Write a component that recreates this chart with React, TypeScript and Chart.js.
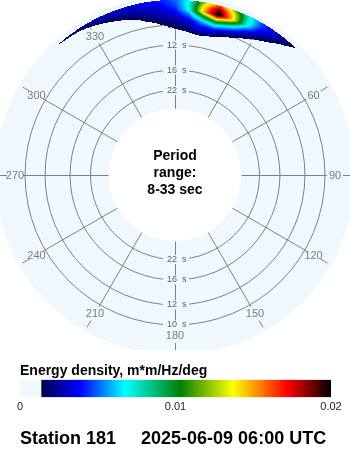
import React, { useEffect, useRef } from 'react';
import { Chart, registerables } from 'chart.js';

Chart.register(...registerables);

// ---------------- data ----------------
// direction nodes (degrees, compass, clockwise from north)
const DIRECTIONS_DEG = [315, 320, 325, 330, 335, 340, 345, 350, 355, 0, 5, 10, 15, 20, 25, 30, 35, 40, 45, 50];
// frequency nodes (Hz)
const FREQUENCIES_HZ = [0.093, 0.097, 0.101, 0.105, 0.109, 0.113, 0.117, 0.121];
// energy density m*m/Hz/deg, one row per direction, values at FREQUENCIES_HZ
const ENERGY = [
  [0, 0, 0, 0, 0, 0, 0, 0.0008],
  [0, 0, 0, 0, 0, 0, 0, 0.0017],
  [0, 0, 0, 0, 0, 0, 0.0002, 0.0024],
  [0, 0, 0, 0, 0, 0, 0.0013, 0.0028],
  [0, 0, 0, 0, 0, 0.0009, 0.0021, 0.003],
  [0, 0, 0, 0, 0.0006, 0.0017, 0.0025, 0.0032],
  [0, 0, 0, 0.0004, 0.0015, 0.0022, 0.0029, 0.0034],
  [0, 0, 0.0005, 0.0015, 0.0021, 0.0027, 0.0033, 0.0038],
  [0, 0.0006, 0.0015, 0.0021, 0.0026, 0.0032, 0.0038, 0.0042],
  [0.0003, 0.0014, 0.002, 0.0026, 0.0033, 0.0041, 0.0047, 0.005],
  [0.0008, 0.002, 0.0027, 0.0036, 0.0052, 0.007, 0.0073, 0.007],
  [0.0015, 0.0032, 0.0041, 0.0061, 0.0099, 0.0148, 0.0141, 0.0124],
  [0.0008, 0.0025, 0.0045, 0.008, 0.0135, 0.0205, 0.019, 0.016],
  [0.0003, 0.0012, 0.0028, 0.0055, 0.0095, 0.0146, 0.0139, 0.0121],
  [0, 0.0003, 0.0013, 0.0028, 0.0048, 0.0075, 0.0078, 0.0072],
  [0, 0, 0.0003, 0.0012, 0.0024, 0.0036, 0.0046, 0.0046],
  [0, 0, 0, 0, 0.0011, 0.0021, 0.003, 0.0034],
  [0, 0, 0, 0, 0, 0.0005, 0.0016, 0.0022],
  [0, 0, 0, 0, 0, 0, 0.0002, 0.0011],
  [0, 0, 0, 0, 0, 0, 0, 0],
];

const RING_PERIODS = [10, 12, 16, 22];
const DIRECTION_TICKS = [0, 30, 60, 90, 120, 150, 180, 210, 240, 270, 300, 330];
const PERIOD_MIN = 8;
const PERIOD_MAX = 33;

const CB_MIN = 0;
const CB_MAX = 0.02;
const CB_TICKS = [0, 0.01, 0.02];
const CB_THRESHOLD = 0.00135;
const CMAP_VALUES = [0.00135, 0.00386, 0.00675, 0.0103, 0.0137, 0.01717, 0.02];
const CMAP_COLORS = ['#000050', '#0000ff', '#00ffff', '#008000', '#ffff00', '#ff0000', '#000000'];

const CENTER_LINES = ['Period', 'range:', `${PERIOD_MIN}-${PERIOD_MAX} sec`];
const CB_TITLE = 'Energy density, m*m/Hz/deg';
const STATION = 'Station 181';
const TIMESTAMP = '2025-06-09 06:00 UTC';

// ---------------- style / geometry ----------------
const FONT = "'Liberation Sans', Arial, Helvetica, sans-serif";
const DISC_COLOR = '#f0f8ff';
const GRID_COLOR = '#808080';
const HALF_SPAN = 175; // radial units shown on each side of centre
const RAD0 = 29.9; // radius units at f = 0
const RADK = 1200.7; // radius units per Hz
const SPOKE_OUTER = 152;
const TICK_IN = 168;
const TICK_OUT = 176;
const LABEL_R = 160;

const radOfFreq = (f: number) => RAD0 + RADK * f;
const freqOfRad = (r: number) => (r - RAD0) / RADK;
const radOfPeriod = (p: number) => radOfFreq(1 / p);

function hexToRgb(h: string): number[] {
  const n = parseInt(h.slice(1), 16);
  return [(n >> 16) & 255, (n >> 8) & 255, n & 255];
}
const CMAP_RGB = CMAP_COLORS.map(hexToRgb);

function colorFor(v: number): number[] {
  const last = CMAP_VALUES.length - 1;
  if (v <= CMAP_VALUES[0]) return CMAP_RGB[0];
  if (v >= CMAP_VALUES[last]) return CMAP_RGB[last];
  for (let i = 0; i < last; i++) {
    if (v <= CMAP_VALUES[i + 1]) {
      const t = (v - CMAP_VALUES[i]) / (CMAP_VALUES[i + 1] - CMAP_VALUES[i]);
      const a = CMAP_RGB[i];
      const b = CMAP_RGB[i + 1];
      return [a[0] + (b[0] - a[0]) * t, a[1] + (b[1] - a[1]) * t, a[2] + (b[2] - a[2]) * t];
    }
  }
  return CMAP_RGB[last];
}

const REL_DIRS = DIRECTIONS_DEG.map((d) => (d > 180 ? d - 360 : d));

function energyAt(dirDeg: number, f: number): number {
  let rel = ((dirDeg % 360) + 360) % 360;
  if (rel > 180) rel -= 360;
  const nd = REL_DIRS.length;
  const nf = FREQUENCIES_HZ.length;
  if (rel < REL_DIRS[0] || rel > REL_DIRS[nd - 1]) return 0;
  if (f < FREQUENCIES_HZ[0] || f > FREQUENCIES_HZ[nf - 1]) return 0;
  let i = 0;
  while (i < nd - 2 && rel > REL_DIRS[i + 1]) i++;
  let j = 0;
  while (j < nf - 2 && f > FREQUENCIES_HZ[j + 1]) j++;
  const ti = (rel - REL_DIRS[i]) / (REL_DIRS[i + 1] - REL_DIRS[i]);
  const tj = (f - FREQUENCIES_HZ[j]) / (FREQUENCIES_HZ[j + 1] - FREQUENCIES_HZ[j]);
  const v00 = ENERGY[i][j];
  const v01 = ENERGY[i][j + 1];
  const v10 = ENERGY[i + 1][j];
  const v11 = ENERGY[i + 1][j + 1];
  return (v00 * (1 - tj) + v01 * tj) * (1 - ti) + (v10 * (1 - tj) + v11 * tj) * ti;
}

const polarPlugin = {
  id: 'polarSpectrum',
  afterDraw(chart: any) {
    const { ctx } = chart;
    const xs = chart.scales.x;
    const ys = chart.scales.y;
    const cx = xs.getPixelForValue(0);
    const cy = ys.getPixelForValue(0);
    const rpx = (r: number) => Math.abs(xs.getPixelForValue(r) - cx);
    const pt = (deg: number, r: number) => {
      const a = (deg * Math.PI) / 180;
      return [xs.getPixelForValue(r * Math.sin(a)), ys.getPixelForValue(r * Math.cos(a))];
    };

    ctx.save();
    // disc
    ctx.fillStyle = DISC_COLOR;
    ctx.beginPath();
    ctx.arc(cx, cy, rpx(radOfPeriod(PERIOD_MIN)), 0, Math.PI * 2);
    ctx.fill();

    // rings
    ctx.strokeStyle = GRID_COLOR;
    ctx.lineWidth = 1;
    RING_PERIODS.forEach((p) => {
      ctx.beginPath();
      ctx.arc(cx, cy, rpx(radOfPeriod(p)), 0, Math.PI * 2);
      ctx.stroke();
    });

    // spokes and outer ticks
    DIRECTION_TICKS.forEach((d) => {
      const [x0, y0] = pt(d, radOfPeriod(PERIOD_MAX));
      const [x1, y1] = pt(d, SPOKE_OUTER);
      const [x2, y2] = pt(d, TICK_IN);
      const [x3, y3] = pt(d, TICK_OUT);
      const snap = (v: number, vert: boolean) => (vert ? Math.round(v) + 0.5 : v);
      const vertical = d % 180 === 0;
      const horizontal = d % 180 === 90;
      ctx.beginPath();
      ctx.moveTo(vertical ? snap(x0, true) : x0, horizontal ? snap(y0, true) : y0);
      ctx.lineTo(vertical ? snap(x1, true) : x1, horizontal ? snap(y1, true) : y1);
      ctx.moveTo(vertical ? snap(x2, true) : x2, horizontal ? snap(y2, true) : y2);
      ctx.lineTo(vertical ? snap(x3, true) : x3, horizontal ? snap(y3, true) : y3);
      ctx.stroke();
    });

    // ring labels along 0 and 180
    ctx.font = `9px ${FONT}`;
    ctx.textBaseline = 'middle';
    [0, 180].forEach((d) => {
      RING_PERIODS.forEach((p) => {
        const [lx, ly] = pt(d, radOfPeriod(p));
        ctx.fillStyle = DISC_COLOR;
        ctx.fillRect(lx - 12, ly - 4.5, 26, 9);
        ctx.fillStyle = '#606060';
        ctx.textAlign = 'right';
        ctx.fillText(String(p), lx + 2, ly);
        ctx.textAlign = 'left';
        ctx.fillText('s', lx + 7, ly);
      });
    });

    // direction labels
    ctx.font = `11px ${FONT}`;
    ctx.fillStyle = '#7a7a7a';
    ctx.textAlign = 'center';
    ctx.textBaseline = 'middle';
    DIRECTION_TICKS.forEach((d) => {
      const [lx, ly] = pt(d, LABEL_R);
      ctx.fillText(String(d), lx, ly + 0.5);
    });

    // energy field
    const W = chart.width;
    const H = chart.height;
    const off = document.createElement('canvas');
    off.width = W;
    off.height = H;
    const octx = off.getContext('2d') as CanvasRenderingContext2D;
    const img = octx.createImageData(W, H);
    const colVals: number[] = [];
    for (let px = 0; px < W; px++) colVals.push(xs.getValueForPixel(px + 0.5));
    for (let py = 0; py < H; py++) {
      const yv = ys.getValueForPixel(py + 0.5);
      for (let px = 0; px < W; px++) {
        const xv = colVals[px];
        const r = Math.sqrt(xv * xv + yv * yv);
        const f = freqOfRad(r);
        if (f < FREQUENCIES_HZ[0] || f > FREQUENCIES_HZ[FREQUENCIES_HZ.length - 1]) continue;
        const dir = (Math.atan2(xv, yv) * 180) / Math.PI;
        const v = energyAt(dir, f);
        if (v < CB_THRESHOLD) continue;
        const c = colorFor(v);
        const k = (py * W + px) * 4;
        img.data[k] = c[0];
        img.data[k + 1] = c[1];
        img.data[k + 2] = c[2];
        img.data[k + 3] = 255;
      }
    }
    octx.putImageData(img, 0, 0);
    ctx.drawImage(off, 0, 0);

    // inner white disc
    ctx.fillStyle = '#ffffff';
    ctx.beginPath();
    ctx.arc(cx, cy, rpx(radOfPeriod(PERIOD_MAX)), 0, Math.PI * 2);
    ctx.fill();

    // centre text
    ctx.fillStyle = '#000000';
    ctx.font = `bold 14px ${FONT}`;
    ctx.textAlign = 'center';
    ctx.textBaseline = 'alphabetic';
    const offsets = [-15, 1.5, 19];
    CENTER_LINES.forEach((t, i) => ctx.fillText(t, cx, cy + offsets[i]));
    ctx.restore();
  },
};

export default function App() {
  const polarRef = useRef<HTMLCanvasElement>(null);
  const barRef = useRef<HTMLCanvasElement>(null);

  useEffect(() => {
    const polar = new Chart(polarRef.current as HTMLCanvasElement, {
      type: 'scatter',
      data: { datasets: [] },
      options: {
        animation: false,
        responsive: false,
        events: [],
        layout: { padding: 0 },
        plugins: { legend: { display: false }, tooltip: { enabled: false } },
        scales: {
          x: { type: 'linear', min: -HALF_SPAN, max: HALF_SPAN, display: false },
          y: { type: 'linear', min: -HALF_SPAN, max: HALF_SPAN, display: false },
        },
      },
      plugins: [polarPlugin],
    } as any);

    const gradientFill = (c: any) => {
      const ch = c.chart;
      const xs = ch.scales && ch.scales.x;
      if (!xs || !ch.chartArea) return CMAP_COLORS[0];
      const last = CMAP_VALUES.length - 1;
      const x0 = xs.getPixelForValue(CMAP_VALUES[0]);
      const x1 = xs.getPixelForValue(CMAP_VALUES[last]);
      const g = ch.ctx.createLinearGradient(x0, 0, x1, 0);
      CMAP_VALUES.forEach((v, i) =>
        g.addColorStop((v - CMAP_VALUES[0]) / (CMAP_VALUES[last] - CMAP_VALUES[0]), CMAP_COLORS[i])
      );
      return g;
    };

    const bar = new Chart(barRef.current as HTMLCanvasElement, {
      type: 'bar',
      data: {
        labels: [''],
        datasets: [
          {
            data: [[CB_MIN, CB_THRESHOLD]],
            backgroundColor: DISC_COLOR,
            grouped: false,
            barPercentage: 1,
            categoryPercentage: 1,
            borderWidth: 0,
          },
          {
            data: [[CB_THRESHOLD, CB_MAX]],
            backgroundColor: gradientFill,
            grouped: false,
            barPercentage: 1,
            categoryPercentage: 1,
            borderWidth: 0,
          },
        ],
      },
      options: {
        indexAxis: 'y',
        animation: false,
        responsive: false,
        events: [],
        layout: { padding: { left: 20, right: 19, top: 13, bottom: 0 } },
        plugins: {
          legend: { display: false },
          tooltip: { enabled: false },
          title: {
            display: true,
            text: CB_TITLE,
            align: 'start',
            color: '#000000',
            font: { family: FONT, size: 14, weight: 'bold' },
            padding: { top: 0, bottom: 0 },
          },
          subtitle: {
            display: true,
            position: 'bottom',
            text: `${STATION}     ${TIMESTAMP}`,
            align: 'start',
            color: '#000000',
            font: { family: FONT, size: 18, weight: 'bold' },
            padding: { top: 12, bottom: 0 },
          },
        },
        scales: {
          x: {
            type: 'linear',
            min: CB_MIN,
            max: CB_MAX,
            afterBuildTicks: (s: any) => {
              s.ticks = CB_TICKS.map((v) => ({ value: v }));
            },
            ticks: {
              callback: (v: any) => String(Number(v)),
              color: '#222222',
              font: { family: FONT, size: 11 },
              padding: 3,
              maxRotation: 0,
              autoSkip: false,
            },
            grid: { display: false, drawTicks: false },
            border: { display: false },
          },
          y: { display: false, stacked: true },
        },
      },
    } as any);

    return () => {
      polar.destroy();
      bar.destroy();
    };
  }, []);

  return (
    <div style={{ position: 'absolute', left: 0, top: 0, width: 350, height: 450, background: '#ffffff' }}>
      <canvas ref={polarRef} width={350} height={350} style={{ display: 'block' }} />
      <canvas ref={barRef} width={350} height={100} style={{ display: 'block' }} />
    </div>
  );
}
